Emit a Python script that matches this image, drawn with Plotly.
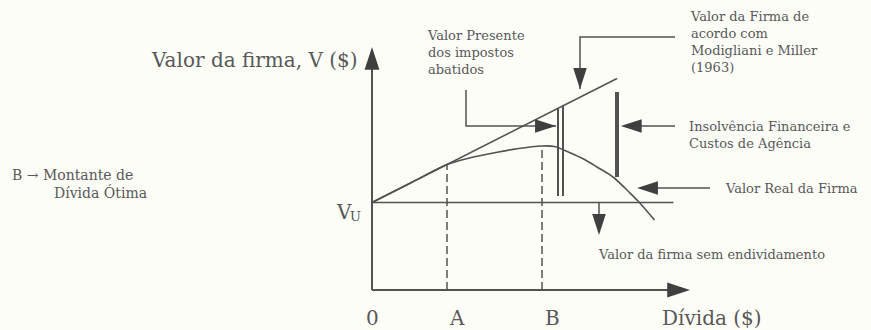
import numpy as np
import plotly.graph_objects as go

# ---- data (diagram units: debt on x, firm value on y) ----
debt_marks = ["0", "A", "B"]
debt_mark_values = [0.0, 3.0, 6.8]
v_unlevered = 3.5

# Modigliani & Miller (1963) firm value line
mm_debt = [0.0, 9.8]
mm_value = [3.5, 8.46]

# Real firm value curve (trade-off)
real_debt = [0.0, 1.5, 3.0, 3.9, 4.8, 5.8, 6.8, 7.3, 7.9, 8.5, 9.0, 9.64, 10.3, 10.64, 11.3]
real_value = [3.5, 4.26, 5.02, 5.28, 5.47, 5.65, 5.76, 5.74, 5.5, 5.22, 4.92, 4.52, 3.9, 3.56, 2.8]

# Unlevered value line end, axis ends
vu_end = 12.06
debt_axis_end = 12.72
value_axis_end = 9.72

# present value of tax shields (double bar) and distress costs (thick bar)
tax_shield_debt = [7.44, 7.64]
tax_shield_bottom = 3.76
distress_debt = 9.8
distress_value = [4.52, 7.92]

LINE = "#525252"
HEAD = "#3f3f3f"
TEXT = "#585858"
BG = "#fdfdf8"
SERIF = "DejaVu Serif"

fig = go.Figure()


def seg(xs, ys, width=1.5, dash=None, head=0):
    # line segment, optionally ending in a filled arrow head
    fig.add_trace(go.Scatter(
        x=xs, y=ys, mode="lines+markers" if head else "lines",
        showlegend=False, hoverinfo="skip",
        line=dict(color=LINE, width=width, dash=dash),
        marker=dict(symbol="arrow", angleref="previous", color=HEAD, opacity=1,
                    size=[0] * (len(xs) - 1) + [head], line_width=0),
    ))


def label(x, y, text, size=13, xanchor="left", yanchor="middle", align="left"):
    fig.add_annotation(
        x=x, y=y, xref="x", yref="y", text=text, showarrow=False,
        xanchor=xanchor, yanchor=yanchor, align=align,
        font=dict(family=SERIF, size=size, color=TEXT),
    )


# axes with arrows
seg([0, 0], [0, value_axis_end], width=2, head=24)
seg([0, debt_axis_end], [0, 0], width=2, head=24)

# unlevered value
seg([0, vu_end], [v_unlevered, v_unlevered])

# MM line and real value curve
seg(mm_debt, mm_value)
fig.add_trace(go.Scatter(
    x=real_debt, y=real_value, mode="lines", showlegend=False, hoverinfo="skip",
    line=dict(color=LINE, width=1.6, shape="spline", smoothing=0.8),
))

# dashed guides at A and B
for d in debt_mark_values[1:]:
    top = real_value[real_debt.index(d)]
    seg([d, d], [0, top], width=1.5, dash="8px,4px")

# double bar: tax shields
mm_slope = (mm_value[1] - mm_value[0]) / (mm_debt[1] - mm_debt[0])
for d in tax_shield_debt:
    seg([d, d], [tax_shield_bottom, mm_value[0] + mm_slope * d], width=2)

# thick bar: distress costs
seg([distress_debt, distress_debt], distress_value, width=4)

# connectors from the descriptive texts
seg([3.76, 3.76, 7.36], [8.0, 6.56, 6.56], head=22)
seg([12.12, 8.32, 8.32], [10.12, 10.12, 8.04], head=22)
seg([12.12, 9.95], [6.56, 6.56], head=22)
seg([13.52, 10.6], [4.08, 4.08], head=22)
seg([9.08, 9.08], [v_unlevered, 2.2], head=22)

# axis texts
label(-0.48, 9.2, "Valor da firma, V ($)", size=20, xanchor="right")
label(-0.72, 3.12, "V", size=20, xanchor="right")
label(-0.98, 2.94, "U", size=13)
for name, d in zip(debt_marks, debt_mark_values):
    label(d + (0.4 if d else 0), -1.1, name, size=20, xanchor="center")
label(11.5, -1.1, "Dívida ($)", size=20)

# left note
label(-14.5, 4.6, "B \u2192 Montante de", size=14)
label(-12.8, 3.92, "Dívida Ótima", size=14)

# descriptive texts
label(2.12, 9.52, "Valor Presente<br>dos impostos<br>abatidos")
label(12.64, 9.92, "Valor da Firma de<br>acordo com<br>Modigliani e Miller<br>(1963)")
label(12.6, 6.2, "Insolvência Financeira e<br>Custos de Agência")
label(14.04, 4.06, "Valor Real da Firma")
label(8.96, 1.44, "Valor da firma sem endividamento")

fig.update_layout(
    width=871, height=330,
    margin=dict(l=0, r=0, t=0, b=0),
    paper_bgcolor=BG, plot_bgcolor=BG,
    xaxis=dict(range=[-14.88, 19.96], visible=False, fixedrange=True),
    yaxis=dict(range=[-1.6, 11.6], visible=False, fixedrange=True),
    showlegend=False,
)

fig.write_html("out.html", config={"displayModeBar": False},
               post_script="document.body.style.margin='0';")
